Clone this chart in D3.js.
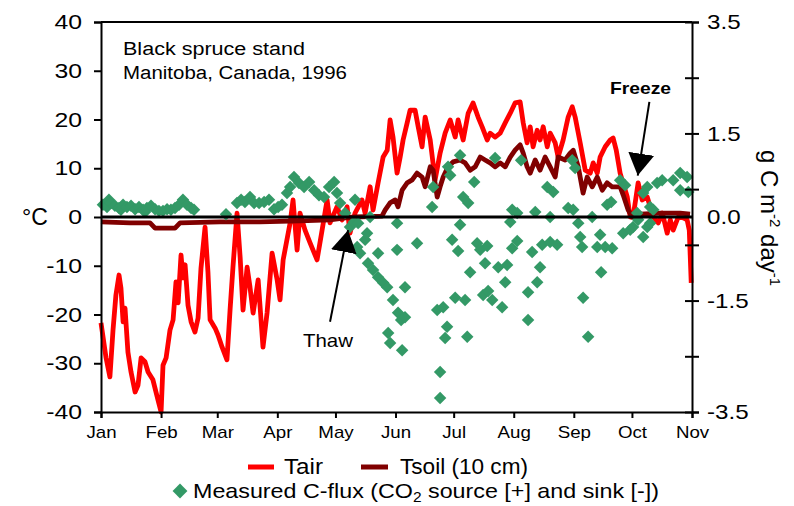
<!DOCTYPE html>
<html><head><meta charset="utf-8">
<script src="https://cdn.jsdelivr.net/npm/d3@7"></script>
<style>
body{margin:0;background:#fff}
svg{display:block}
text{font-family:"Liberation Sans",Arial,sans-serif;fill:#000}
</style>
</head><body>
<svg id="chart" width="794" height="506"></svg>
<script>
// ---------- data ----------
const monthLabels = ["Jan","Feb","Mar","Apr","May","Jun","Jul","Aug","Sep","Oct","Nov"];
const monthDays   = [0,31,60,91,121,152,182,213,244,274,305];
const tempTicks   = [40,30,20,10,0,-10,-20,-30,-40];
const fluxTicks   = [3.5,2.5,1.5,0.5,-0.5,-1.5,-2.5,-3.5];
const fluxLabels  = [3.5,1.5,0,-1.5,-3.5];

const tairDay = [0,2.6,4.6,6.2,7.7,9.3,10.3,11.4,12.4,13.9,15.5,17.6,19.1,20.7,22.7,24.3,26.8,29.4,31,32,33.6,35.6,37.2,38.7,39.8,41.3,42.3,43.4,44.9,46.5,48.5,50.1,51.6,53.7,55.2,56.3,58.9,60.4,62.5,65,66.6,68.1,70.2,71.8,73.3,75.4,76.9,78.5,81.1,83.6,85.7,88.3,90.9,92.4,94,97.6,99.1,101.2,102.7,105.3,107.9,111.5,114.1,116.7,118.2,121.8,124.4,127,128.5,131.1,134.7,136.3,138.9,140.4,143,145.6,147.7,149.2,150.7,152.8,154.4,155.9,158,159.5,162.1,163.7,165.7,167.3,169.9,172.4,175,177.6,180.2,182.8,184.3,186.9,189.5,192,194.6,196.7,199.3,200.8,203.4,206,208.6,211.2,213.7,216.3,217.9,219.9,221.5,223,225.1,226.6,228.2,230.3,231.8,234.4,235.9,238.5,241.1,243.2,244.7,247.3,249.9,252.5,254,256.1,257.6,260.2,262.8,264.3,265.9,267.9,271.6,273.1,274.6,277.2,279.3,281.9,285,287.6,289.7,292.2,293.8,295.3,297.9,300.5,302.5,303.6,304.6];
const tairVal = [-21.7,-28.9,-32.8,-23.2,-16,-11.9,-14.6,-21.5,-18.7,-27.7,-31.8,-35.9,-34.5,-28.9,-29.7,-31.8,-33.4,-37.5,-40,-30.4,-28.9,-23.2,-21.1,-13.3,-17.6,-7.8,-12.5,-9.8,-18.1,-21.5,-23.6,-20.7,-10.5,-2.1,-11.3,-21.1,-22.8,-24.2,-26.7,-29.3,-19.1,-10.3,0.8,-8.2,-19.1,-10.3,-14.4,-19.7,-12.9,-26.7,-19.7,-7.4,-12.9,-17,-8.8,-1.2,3.5,-6.8,0.8,-2.7,-5.3,-8.8,-2.7,3.5,-1.2,2.1,-0.6,2.1,-3.3,0.8,3.5,0.8,6.2,1.4,7,12.3,13.7,19.9,16.4,9,12.3,15.8,19.3,21.9,21.9,18.5,14.4,20.5,15.8,7.6,13.1,17.2,19.9,16.4,19.9,15.8,21.3,23.4,20.5,18.5,15.8,17.2,16.4,17.2,19.3,21.3,23.4,23.6,19.3,15.2,18.5,14.4,17.8,15.8,18.5,14.4,17.2,15.2,12.3,15.8,20.5,22.6,20.5,15.2,9.6,9,11.1,9,12.3,14.4,15.8,16.2,13.7,9,4.1,0,0,7,3.5,4.1,0,-1.2,0.8,-3.3,-0.6,-2.7,0,-0.2,-0.6,-2.7,-13.5];

const tsoilDay = [0,15,25.3,27.9,38.2,40.8,61.4,82,102.7,118.2,126,131,145,146.6,149.2,151.8,153.3,155.4,158,160.6,163.1,165.7,167.3,169.9,171.4,173.5,175,176.6,179.1,181.7,185.3,187.9,190.5,193.1,195.7,198.2,200.8,203.4,206,208.6,211.2,213.7,216.3,217.9,219.9,221.5,224.1,226.6,229.2,231.8,234.4,235.9,239.5,242.1,243.7,246.3,248.8,250.9,253.5,256.1,258.7,261.2,263.8,267.9,269.5,272.1,274.1,278.3,288.6,298.9,304];
const tsoilVal = [-1,-1.2,-1.2,-2.3,-2.3,-1.2,-1,-1,-0.8,-0.6,-0.2,0,0.2,1.4,2.9,3.5,2.1,5.5,7,7.6,9,8.2,6.2,10.3,9.6,4.1,6.2,8.2,10.3,11.3,11.7,11.1,9.6,10.3,12.3,11.7,11.1,10.3,11.1,10.3,12.3,13.7,14.8,13.1,10.3,9,11.7,9.6,12.3,10.3,8.2,12.3,11.7,13.1,13.7,10.3,4.9,8.2,6.2,8.2,5.5,7,6.2,6.2,4.5,1.4,0,0.6,0.8,0.8,0.6];

const fluxDay = [1,3.1,4.1,5.2,7.2,9.3,10.3,11.4,13.4,15.5,17.6,19.6,21.7,22.7,23.7,25.8,27.9,29.9,32,34.1,36.1,38.2,40.3,42.3,44.4,46.5,48,
 64.5,70.2,72.3,74.3,76.9,79,81.6,84.2,86.7,89.3,91.4,93.4,96,97.6,99.6,102.2,104.8,107.4,110,112.5,115.1,117.7,120.3,121.8,123.4,126,128.5,130.6,131.1,132.2,
 132.7,133.7,136.3,137.3,138.9,137.8,140.4,143,143,145.6,147.7,150.7,148.2,149.2,152.8,152.8,153.3,154.9,156.9,155.4,156.9,163.1,171.4,170.9,173.5,176.6,178.6,177.6,175,175,179.1,180.2,185.3,181.2,184.3,185.3,182.8,187.9,189,186.9,189.5,192.6,190.5,194.1,195.7,198.2,197.2,199.8,199.3,201.9,203.4,205,207,208.6,209.6,211.2,212.2,214.8,212.2,214.8,216.8,220.4,220.4,222.5,224.1,225.1,226.6,227.7,230.3,233.4,231.8,231.8,235.4,243.2,244.7,241.1,243.7,246.3,247.3,248.3,248.8,251.4,253.5,256.1,257.6,258.1,261.2,263.3,260.2,263.8,267.9,270.5,269.5,273.1,274.6,276.7,277.2,279.8,281.9,279.8,281.9,283.4,285,283.4,287,289.6,295.3,298.9,302.5,298.9,303.1];
const fluxVal = [0.22,0.18,0.31,0.25,0.2,0.16,0.13,0.22,0.18,0.2,0.14,0.18,0.13,0.09,0.16,0.2,0.14,0.11,0.11,0.14,0.13,0.16,0.22,0.31,0.22,0.16,0.13,
 0.05,0.25,0.31,0.27,0.36,0.25,0.25,0.27,0.31,0.14,0.18,0.22,0.43,0.54,0.72,0.61,0.54,0.63,0.48,0.39,0.36,0.54,0.63,0.43,0.25,0.07,-0.18,-0.09,0.31,-0.54,
 -0.11,-0.65,-0.41,-0.29,0,-0.83,-0.95,-0.65,-1.08,-1.18,-1.26,-1.49,-2.08,-2.26,-0.11,-0.59,-1.72,-1.85,-1.8,-2.39,-1.26,-0.47,0.54,0.18,-1.67,-1.62,-1.97,-2.17,-2.78,-3.25,0.9,0.75,1.11,-0.41,-0.61,-0.14,-1.45,-1.49,-2.15,0.36,0.25,0.63,-0.99,-0.47,-0.59,-0.83,-1.4,-1.33,-0.52,-1.49,1.06,-0.9,-1.62,-1.17,-0.86,-0.09,0.13,0.07,-0.56,-0.43,1.02,-1.35,-1.85,-0.63,0.09,-1.17,-0.9,-0.5,0.54,0.45,0,-0.45,-0.5,1.02,0.88,0.16,0.13,-0.11,-0.36,-0.54,-1.45,-2.15,0,-0.54,-0.32,-0.99,0.22,0.27,-0.54,-0.56,0.66,0.57,-0.29,-0.23,-0.18,0.07,-0.05,0.43,0.54,-0.36,-0.18,0.18,0.13,-0.11,0.61,0.66,0.66,0.79,0.72,0.48,0.45];

// annotations in data units (day, °C)
const freezeArrow = {from:[283,23.6], to:[277,8.5]};
const thawArrow   = {from:[118.2,-21.5], to:[127.5,-2.7]};

// ---------- layout ----------
const svg = d3.select("#chart");
const L = 101, R = 692, T = 22, B = 412;
const x  = d3.scaleLinear().domain([0,305]).range([L,R]);
const yT = d3.scaleLinear().domain([-40,40]).range([B,T]);
const yF = d3.scaleLinear().domain([-3.5,3.5]).range([B,T]);

function fit(sel, factor){
  sel.each(function(){
    const w = this.getComputedTextLength();
    d3.select(this).attr("textLength", w*factor).attr("lengthAdjust","spacingAndGlyphs");
  });
}
function fitTo(sel, width){
  sel.attr("textLength", width).attr("lengthAdjust","spacingAndGlyphs");
}

// series
const tair  = tairDay.map((d,i)=>[d,tairVal[i]]);
const tsoil = tsoilDay.map((d,i)=>[d,tsoilVal[i]]);
const flux  = fluxDay.map((d,i)=>[d,fluxVal[i]]);
const lineT = d3.line().x(d=>x(d[0])).y(d=>yT(d[1]));

svg.append("path").datum(tair).attr("d",lineT)
  .attr("fill","none").attr("stroke","#ff0000").attr("stroke-width",4.8).attr("stroke-linejoin","round");
svg.append("path").datum(tsoil).attr("d",lineT)
  .attr("fill","none").attr("stroke","#800000").attr("stroke-width",4.8).attr("stroke-linejoin","round");

const diamond = d3.symbol().type(d3.symbolSquare).size(78);
svg.append("g").selectAll("path").data(flux).join("path")
  .attr("d",diamond)
  .attr("transform",d=>`translate(${x(d[0])},${yF(d[1])}) rotate(45)`)
  .attr("fill","#339966");

// zero line
svg.append("line").attr("x1",L).attr("x2",R).attr("y1",yT(0)).attr("y2",yT(0))
  .attr("stroke","#000").attr("stroke-width",3);

// frame top
svg.append("line").attr("x1",L).attr("x2",R).attr("y1",T).attr("y2",T)
  .attr("stroke","#000").attr("stroke-width",2);

const hy = v => String(v);          // plain hyphen-minus as in the original
const hy1 = v => v.toFixed(1);

// left axis
const gL = svg.append("g").attr("transform",`translate(${L},0)`)
  .call(d3.axisLeft(yT).tickValues(tempTicks).tickSize(7).tickPadding(12).tickFormat(hy));
gL.select(".domain").attr("stroke-width",2);
gL.selectAll(".tick line").attr("stroke-width",2);
gL.selectAll("text").attr("font-size",21).attr("fill","#111");
fit(gL.selectAll("text"),1.18);

// right axis ticks
const gR = svg.append("g").attr("transform",`translate(${R},0)`)
  .call(d3.axisRight(yF).tickValues(fluxTicks).tickSize(7).tickFormat(""));
gR.select(".domain").attr("stroke-width",2);
gR.selectAll(".tick line").attr("x1",-7).attr("stroke-width",2);
// right axis labels
const gR2 = svg.append("g").attr("transform",`translate(${R},0)`)
  .call(d3.axisRight(yF).tickValues(fluxLabels).tickSize(0).tickPadding(15).tickFormat(hy1));
gR2.select(".domain").remove();
gR2.selectAll("text").attr("font-size",21).attr("fill","#111");
fit(gR2.selectAll("text"),1.15);

// bottom axis
const gB = svg.append("g").attr("transform",`translate(0,${B})`)
  .call(d3.axisBottom(x).tickValues(monthDays).tickSize(6).tickPadding(8).tickFormat((d,i)=>monthLabels[i]));
gB.select(".domain").attr("stroke-width",2);
gB.selectAll(".tick line").attr("stroke-width",2);
gB.selectAll("text").attr("font-size",17).attr("fill","#333");
fit(gB.selectAll("text"),1.1);

// axis titles
svg.append("text").attr("x",22).attr("y",225).attr("font-size",23).text("°C");
const rt = svg.append("text").attr("transform","translate(761,150) rotate(90)").attr("font-size",24);
rt.append("tspan").text("g C m");
rt.append("tspan").attr("font-size",15).attr("dy",-9).text("-2");
rt.append("tspan").attr("dy",9).text(" day");
rt.append("tspan").attr("font-size",15).attr("dy",-9).text("-1");

// site text
fitTo(svg.append("text").attr("x",123).attr("y",55).attr("font-size",18).text("Black spruce stand"),182);
fitTo(svg.append("text").attr("x",123).attr("y",79).attr("font-size",18).text("Manitoba, Canada, 1996"),224);

// arrows
const defs = svg.append("defs");
defs.append("marker").attr("id","ah").attr("markerUnits","userSpaceOnUse")
  .attr("markerWidth",26).attr("markerHeight",28).attr("refX",22).attr("refY",13)
  .attr("orient","auto")
  .append("path").attr("d","M0,0 L22,13 L0,26 Z").attr("fill","#000");
[freezeArrow, thawArrow].forEach(a=>{
  svg.append("line")
    .attr("x1",x(a.from[0])).attr("y1",yT(a.from[1]))
    .attr("x2",x(a.to[0])).attr("y2",yT(a.to[1]))
    .attr("stroke","#000").attr("stroke-width",2).attr("marker-end","url(#ah)");
});
fitTo(svg.append("text").attr("x",610).attr("y",94).attr("font-size",17).attr("font-weight","bold").text("Freeze"),61);
fitTo(svg.append("text").attr("x",303).attr("y",347).attr("font-size",19).text("Thaw"),50);

// legend
svg.append("line").attr("x1",248).attr("x2",274).attr("y1",467).attr("y2",467).attr("stroke","#ff0000").attr("stroke-width",5);
fitTo(svg.append("text").attr("x",284).attr("y",474).attr("font-size",22).text("Tair"),39);
svg.append("line").attr("x1",361).attr("x2",388).attr("y1",467).attr("y2",467).attr("stroke","#800000").attr("stroke-width",5);
fitTo(svg.append("text").attr("x",400).attr("y",474).attr("font-size",22).text("Tsoil (10 cm)"),128);
svg.append("path").attr("d",d3.symbol().type(d3.symbolSquare).size(110))
  .attr("transform","translate(180,491) rotate(45)").attr("fill","#339966");
const lg = svg.append("text").attr("x",193).attr("y",498).attr("font-size",21);
lg.append("tspan").text("Measured C-flux (CO");
lg.append("tspan").attr("font-size",14).attr("dy",4).text("2");
lg.append("tspan").attr("dy",-4).text(" source [+] and sink [-])");
fitTo(lg,466);
</script>
</body></html>
